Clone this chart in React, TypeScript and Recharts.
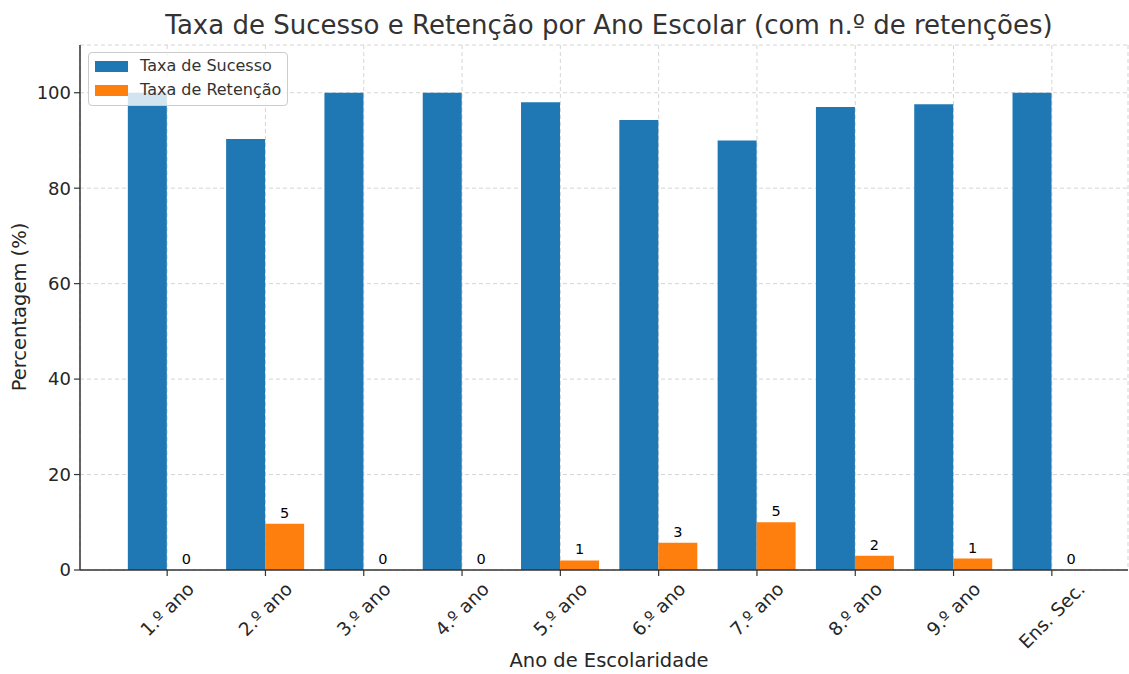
import React from 'react';
import { BarChart, Bar, XAxis, YAxis, CartesianGrid, Legend, LabelList } from 'recharts';

const categories = ['1.º ano', '2.º ano', '3.º ano', '4.º ano', '5.º ano', '6.º ano', '7.º ano', '8.º ano', '9.º ano', 'Ens. Sec.'];
const successRate = [100, 90.3, 100, 100, 98.0, 94.3, 90.0, 97.0, 97.6, 100];
const retentionRate = [0, 9.7, 0, 0, 2.0, 5.7, 10.0, 3.0, 2.4, 0];
const retentionCount = [0, 5, 0, 0, 1, 3, 5, 2, 1, 0];
const yTicks = [0, 20, 40, 60, 80, 100];

const data = categories.map((c, i) => ({
  name: c,
  sucesso: successRate[i],
  retencao: retentionRate[i],
  count: retentionCount[i],
}));

const FONT = '"DejaVu Sans", Verdana, sans-serif';
const TEXT = '#262626';

let ctx: CanvasRenderingContext2D | null = null;
function measure(text: string, size: number): number {
  try {
    if (!ctx) ctx = document.createElement('canvas').getContext('2d');
    if (ctx) {
      ctx.font = `${size}px "DejaVu Sans"`;
      return ctx.measureText(text).width;
    }
  } catch (e) {}
  return text.length * size * 0.6;
}

const XTick = (props: any) => {
  const { x, y, payload } = props;
  const size = 18.5;
  const text = String(payload.value);
  const L = measure(text, size);
  const h = size * 1.17;
  const half = (L + h) / (2 * Math.SQRT2);
  const cy = y + half;
  return (
    <text
      x={x}
      y={cy}
      textAnchor="middle"
      dominantBaseline="central"
      fontSize={size}
      fontFamily={FONT}
      fill={TEXT}
      transform={`rotate(-45, ${x}, ${cy})`}
    >
      {text}
    </text>
  );
};

// Drawn from the success bar geometry: the retention bar sits right next to it,
// same width, same baseline; its top follows the same linear y scale.
const CountLabel = (props: any) => {
  const { x, y, width, height, index } = props;
  const baseline = y + height;
  const s = successRate[index];
  const r = retentionRate[index];
  const top = baseline - (s ? (height * r) / s : 0);
  return (
    <text
      x={x + width + width / 2}
      y={top - 6}
      textAnchor="middle"
      fontSize={14.5}
      fontFamily={FONT}
      fill="#000"
    >
      {retentionCount[index]}
    </text>
  );
};

const LegendBox = () => (
  <div
    style={{
      width: 200,
      height: 54,
      boxSizing: 'border-box',
      background: 'rgba(255,255,255,0.8)',
      border: '1px solid #cccccc',
      borderRadius: 4,
      padding: '1px 0 0 6px',
      fontFamily: FONT,
      fontSize: 16,
      color: '#333',
    }}
  >
    {[
      { label: 'Taxa de Sucesso', color: '#1f77b4' },
      { label: 'Taxa de Retenção', color: '#ff7f0e' },
    ].map((it) => (
      <div key={it.label} style={{ display: 'flex', alignItems: 'center', height: 24 }}>
        <div style={{ width: 33, height: 11, background: it.color, marginRight: 12 }} />
        <span style={{ lineHeight: '24px' }}>{it.label}</span>
      </div>
    ))}
  </div>
);

export default function App() {
  return (
    <div style={{ position: 'absolute', left: 0, top: 0, width: 1129, height: 674, background: '#fff', overflow: 'hidden' }}>
      <BarChart
        width={1129}
        height={674}
        data={data}
        margin={{ top: 45, right: 1, left: 0, bottom: 0 }}
        barCategoryGap="10%"
        barGap={0}
      >
        <CartesianGrid stroke="#d0d0d0" strokeDasharray="4 3" strokeWidth={0.9} />
        <XAxis
          dataKey="name"
          height={104}
          padding={{ left: 38, right: 27 }}
          tickSize={6}
          tickMargin={2}
          tick={<XTick />}
          axisLine={{ stroke: '#333', strokeWidth: 1.5 }}
          tickLine={{ stroke: '#333', strokeWidth: 1.2 }}
          interval={0}
        />
        <YAxis
          width={80}
          domain={[0, 110]}
          ticks={yTicks}
          tickSize={6}
          tickMargin={3}
          allowDataOverflow
          axisLine={{ stroke: '#333', strokeWidth: 1.5 }}
          tickLine={{ stroke: '#333', strokeWidth: 1.2 }}
          tick={{ fontSize: 18, fontFamily: FONT, fill: TEXT }}
        />
        <Legend
          layout="vertical"
          align="center"
          verticalAlign="middle"
          content={<LegendBox />}
          wrapperStyle={{ position: 'absolute', left: 88, top: 52, width: 200, height: 54 }}
        />
        <Bar dataKey="sucesso" name="Taxa de Sucesso" fill="#1f77b4" isAnimationActive={false}>
          <LabelList dataKey="count" content={<CountLabel />} />
        </Bar>
        <Bar dataKey="retencao" name="Taxa de Retenção" fill="#ff7f0e" isAnimationActive={false} />
      </BarChart>
      <div
        style={{
          position: 'absolute',
          left: 0,
          width: 1218,
          top: 9,
          textAlign: 'center',
          fontFamily: FONT,
          fontSize: 26,
          lineHeight: '32px',
          color: '#333',
          whiteSpace: 'nowrap',
          pointerEvents: 'none',
        }}
      >
        Taxa de Sucesso e Retenção por Ano Escolar (com n.º de retenções)
      </div>
      <div
        style={{
          position: 'absolute',
          left: 0,
          width: 1218,
          top: 651,
          textAlign: 'center',
          fontFamily: FONT,
          fontSize: 19.5,
          lineHeight: '20px',
          color: TEXT,
          whiteSpace: 'nowrap',
          pointerEvents: 'none',
        }}
      >
        Ano de Escolaridade
      </div>
      <div
        style={{
          position: 'absolute',
          left: 20,
          top: 307,
          transform: 'translate(-50%, -50%) rotate(-90deg)',
          fontFamily: FONT,
          fontSize: 19.5,
          lineHeight: '26px',
          color: TEXT,
          whiteSpace: 'nowrap',
          pointerEvents: 'none',
        }}
      >
        Percentagem (%)
      </div>
    </div>
  );
}
